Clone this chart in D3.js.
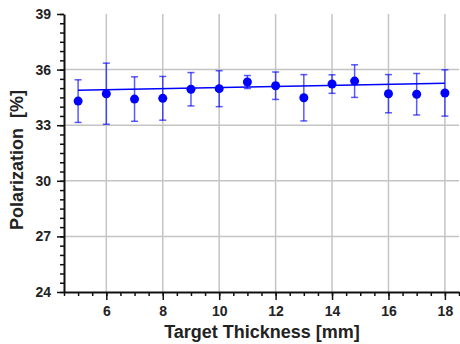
<!DOCTYPE html>
<meta charset="utf-8">
<head>
  <style>
    body { margin: 0; background: #fff; }
    svg { display: block; font-family: "Liberation Sans", Arial, sans-serif; }
    .tick text { font-family: "Liberation Sans", Arial, sans-serif; font-size: 14px; font-weight: bold; fill: #222; }
  </style>
</head>
<body>
  <svg id="viz" width="460" height="344"></svg>
  <script src="https://d3js.org/d3.v7.min.js"></script>
  <script>
    // measured points
    var thickness = [5, 6, 7, 8, 9, 10, 11, 12, 13, 14, 14.8, 16, 17, 18];
    var polarization = [34.30, 34.70, 34.41, 34.45, 34.94, 34.97, 35.33, 35.13, 34.48, 35.22, 35.38, 34.70, 34.67, 34.74];
    var polErr = [1.15, 1.65, 1.2, 1.18, 0.9, 0.97, 0.35, 0.74, 1.25, 0.5, 0.88, 1.03, 1.12, 1.25];
    // linear fit endpoints
    var fitX = [5, 18];
    var fitY = [34.88, 35.26];
    // ticks
    var xMajor = [6, 8, 10, 12, 14, 16, 18];
    var yMajor = [24, 27, 30, 33, 36, 39];

    var svg = d3.select('#viz');
    var x = d3.scaleLinear().domain([4.5, 18.5]).range([64, 459]);
    var y = d3.scaleLinear().domain([24, 39]).range([292, 14]);

    // grid
    var grid = svg.append('g').attr('stroke', '#c4c4c4').attr('stroke-width', 1.5);
    grid.selectAll('.gx').data(xMajor).enter().append('line')
      .attr('x1', d => x(d)).attr('x2', d => x(d))
      .attr('y1', y(39)).attr('y2', y(24));
    grid.selectAll('.gy').data(yMajor.filter(d => d > 24 && d < 39)).enter().append('line')
      .attr('x1', x(4.5)).attr('x2', x(18.5))
      .attr('y1', d => y(d)).attr('y2', d => y(d));

    // minor ticks
    svg.append('g').attr('transform', 'translate(0,292)')
      .call(d3.axisBottom(x).tickValues(d3.range(4.5, 18.51, 0.5)).tickSize(4).tickFormat(''))
      .call(g => g.select('.domain').remove())
      .call(g => g.selectAll('line').attr('stroke', '#111').attr('stroke-width', 1.5));
    svg.append('g').attr('transform', 'translate(64,0)')
      .call(d3.axisLeft(y).tickValues(d3.range(24, 39.01, 0.5)).tickSize(4).tickFormat(''))
      .call(g => g.select('.domain').remove())
      .call(g => g.selectAll('line').attr('stroke', '#111').attr('stroke-width', 1.5));

    // major axes
    svg.append('g').attr('transform', 'translate(0,292)')
      .call(d3.axisBottom(x).tickValues(xMajor).tickSize(8).tickSizeOuter(0).tickPadding(6))
      .call(g => g.select('.domain').attr('stroke', '#111').attr('stroke-width', 2))
      .call(g => g.selectAll('line').attr('stroke', '#111').attr('stroke-width', 1.5));
    svg.append('g').attr('transform', 'translate(64,0)')
      .call(d3.axisLeft(y).tickValues(yMajor).tickSize(7).tickSizeOuter(0).tickPadding(6))
      .call(g => g.select('.domain').attr('stroke', '#111').attr('stroke-width', 2))
      .call(g => g.selectAll('line').attr('stroke', '#111').attr('stroke-width', 1.5));

    // axis titles
    svg.append('text')
      .attr('x', 262).attr('y', 338)
      .attr('text-anchor', 'middle')
      .attr('font-size', 18).attr('font-weight', 'bold').attr('fill', '#222')
      .text('Target Thickness [mm]');
    svg.append('text')
      .attr('transform', 'translate(23,160) rotate(-90)')
      .attr('text-anchor', 'middle')
      .attr('font-size', 18).attr('font-weight', 'bold').attr('fill', '#222')
      .attr('xml:space', 'preserve')
      .text('Polarization  [%]');

    var pts = thickness.map((t, i) => ({ t: t, p: polarization[i], e: polErr[i] }));

    // error bars
    var eb = svg.append('g').attr('stroke', '#0000ff').attr('stroke-opacity', 0.65).attr('stroke-width', 1.5);
    eb.selectAll('.v').data(pts).enter().append('line')
      .attr('x1', d => x(d.t)).attr('x2', d => x(d.t))
      .attr('y1', d => y(d.p - d.e)).attr('y2', d => y(d.p + d.e));
    eb.selectAll('.ct').data(pts).enter().append('line')
      .attr('x1', d => x(d.t) - 3.5).attr('x2', d => x(d.t) + 3.5)
      .attr('y1', d => y(d.p + d.e)).attr('y2', d => y(d.p + d.e));
    eb.selectAll('.cb').data(pts).enter().append('line')
      .attr('x1', d => x(d.t) - 3.5).attr('x2', d => x(d.t) + 3.5)
      .attr('y1', d => y(d.p - d.e)).attr('y2', d => y(d.p - d.e));

    // fit line
    svg.append('path')
      .datum(fitX.map((v, i) => [v, fitY[i]]))
      .attr('fill', 'none').attr('stroke', '#0000ff').attr('stroke-width', 1.5)
      .attr('d', d3.line().x(d => x(d[0])).y(d => y(d[1])));

    // points
    svg.append('g').selectAll('circle').data(pts).enter().append('circle')
      .attr('cx', d => x(d.t)).attr('cy', d => y(d.p))
      .attr('r', 4.5).attr('fill', '#0000ff');
  </script>
</body>
</html>
